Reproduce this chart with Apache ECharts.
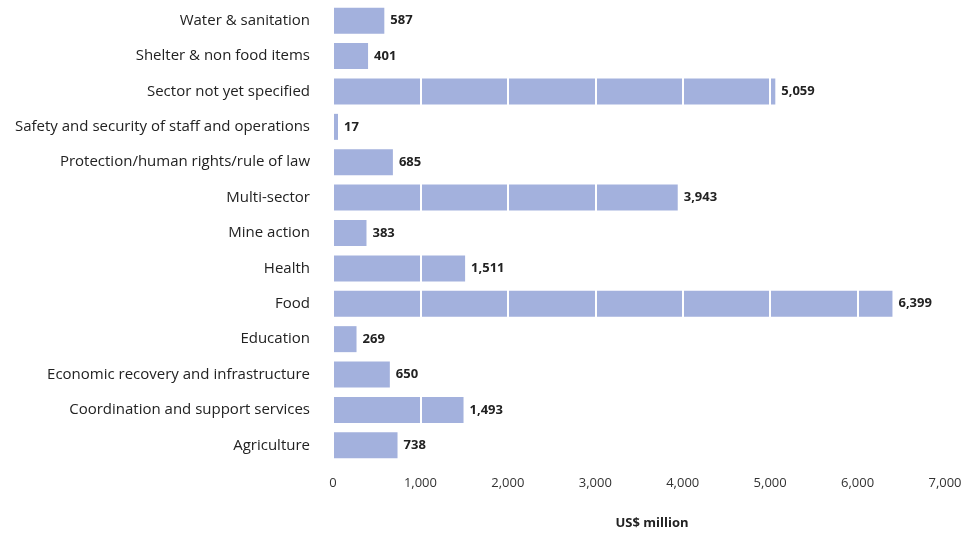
<!DOCTYPE html>
<html>
<head>
<meta charset="utf-8">
<script src="https://cdn.jsdelivr.net/npm/echarts@6/dist/echarts.min.js"></script>
<style>
  html, body { margin: 0; padding: 0; background: #fff; }
  #chart { width: 975px; height: 535px; }
</style>
</head>
<body>
<div id="chart"></div>
<script>
// Sectors, listed bottom to top as the category axis draws them
var sectors = [
  'Agriculture',
  'Coordination and support services',
  'Economic recovery and infrastructure',
  'Education',
  'Food',
  'Health',
  'Mine action',
  'Multi-sector',
  'Protection/human rights/rule of law',
  'Safety and security of staff and operations',
  'Sector not yet specified',
  'Shelter & non food items',
  'Water & sanitation'
];
// Funding per sector, US$ million
var funding = [738, 1493, 650, 269, 6399, 1511, 383, 3943, 685, 17, 5059, 401, 587];
var axisName = 'US$ million';

var chart = echarts.init(document.getElementById('chart'));
var fontFamily = '"Open Sans", "Noto Sans", sans-serif';
var fmt = function (v) { return Number(v).toLocaleString('en-US'); };

chart.setOption({
  animation: false,
  backgroundColor: '#ffffff',
  grid: { left: 333, right: 30, top: 3, bottom: 68 },
  xAxis: {
    type: 'value',
    min: 0,
    max: 7000,
    interval: 1000,
    z: 5, // white gridlines run across the bars
    axisLine: { show: false },
    axisTick: { show: false },
    splitLine: { show: true, lineStyle: { color: '#ffffff', width: 2 } },
    axisLabel: {
      margin: 14,
      color: '#333',
      fontFamily: fontFamily,
      fontSize: 13,
      formatter: fmt
    },
    name: axisName,
    nameLocation: 'middle',
    nameGap: 54,
    nameTextStyle: {
      color: '#222',
      fontFamily: fontFamily,
      fontSize: 13,
      fontWeight: 'bold',
      padding: [0, 0, 0, 26]
    }
  },
  yAxis: {
    type: 'category',
    data: sectors,
    axisLine: { show: false },
    axisTick: { show: false },
    splitLine: { show: false },
    axisLabel: {
      margin: 23,
      color: '#222',
      fontFamily: fontFamily,
      fontSize: 15
    }
  },
  series: [
    {
      // the filled bars
      type: 'bar',
      data: funding,
      barWidth: 26,
      barMinHeight: 5,
      z: 2,
      itemStyle: { color: '#a3b1dd' },
      label: { show: false }
    },
    {
      // value labels, kept above the gridlines
      type: 'bar',
      data: funding,
      barWidth: 26,
      barGap: '-100%',
      barMinHeight: 5,
      z: 10,
      silent: true,
      itemStyle: { color: 'rgba(0,0,0,0)' },
      label: {
        show: true,
        position: 'right',
        distance: 6,
        color: '#222',
        fontFamily: fontFamily,
        fontSize: 13,
        fontWeight: 'bold',
        formatter: function (p) { return fmt(p.value); }
      }
    }
  ]
});
</script>
</body>
</html>
